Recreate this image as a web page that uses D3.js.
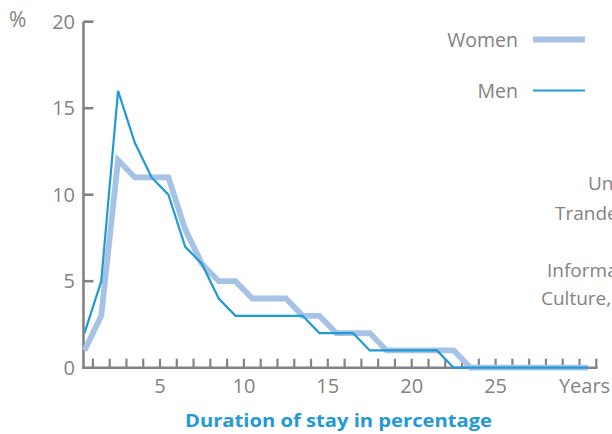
<!DOCTYPE html>
<html><head><meta charset="utf-8">
<script src="https://cdn.jsdelivr.net/npm/d3@7"></script>
<style>body{margin:0;background:#fff}svg{display:block}text{font-family:"Open Sans",sans-serif}</style>
</head><body>
<svg id="c" width="612" height="434"></svg>
<script>
// duration of stay (years), each value plotted at the middle of its year
const years = d3.range(1, 32);
const women = [1,3,12,11,11,11,8,6,5,5,4,4,4,3,3,2,2,2,1,1,1,1,1,0,0,0,0,0,0,0,0];
const men   = [2,5,16,13,11,10,7,6,4,3,3,3,3,3,2,2,2,1,1,1,1,1,0,0,0,0,0,0,0,0,0];
const yTicks = [0,5,10,15,20];
const xTickLabels = [5,10,15,20,25];
const seriesNames = ["Women","Men"];
const sideTexts = ["Un","Trande","Informa","Culture,"];

const svg = d3.select("#c");
const x = d3.scaleLinear().domain([0,31]).range([76.1,596.3]);
const y = d3.scaleLinear().domain([0,20]).range([367.7,21.7]);
const grey = "#838383", light = "#a6c3e5", dark = "#1f9ad7";
const x0 = x(0.44);

// axes
svg.append("line").attr("x1",x0).attr("x2",x0).attr("y1",y(20)).attr("y2",y(0)+1.3)
  .attr("stroke",grey).attr("stroke-width",2.6);
svg.append("line").attr("x1",x0-1.3).attr("x2",x(31)+1.3).attr("y1",y(0)).attr("y2",y(0))
  .attr("stroke",grey).attr("stroke-width",2.6);
svg.selectAll(".yt").data(yTicks.filter(d=>d>0)).enter().append("line")
  .attr("x1",x0).attr("x2",x0+10).attr("y1",d=>y(d)).attr("y2",d=>y(d))
  .attr("stroke",grey).attr("stroke-width",2.6);
svg.selectAll(".xt").data(years).enter().append("line")
  .attr("x1",d=>x(d)).attr("x2",d=>x(d)).attr("y1",y(0)).attr("y2",y(0)-9)
  .attr("stroke",grey).attr("stroke-width",2.2);
svg.selectAll(".yl").data(yTicks).enter().append("text")
  .attr("x",75).attr("y",d=>y(d)+7).attr("text-anchor","end")
  .attr("font-size",20).attr("fill",grey).text(d=>d);
svg.selectAll(".xl").data(xTickLabels).enter().append("text")
  .attr("x",d=>x(d)).attr("y",393).attr("text-anchor","middle")
  .attr("font-size",20).attr("fill",grey).text(d=>d);
svg.append("text").attr("x",x(30.3)).attr("y",393).attr("text-anchor","middle")
  .attr("font-size",20).attr("fill",grey).text("Years");
svg.append("text").attr("x",9).attr("y",27).attr("font-size",21).attr("fill",grey).text("%");

// lines
const line = d3.line().x((d,i)=>x(years[i]-0.5)).y(d=>y(d)).curve(d3.curveLinear);
svg.append("path").datum(women).attr("d",line).attr("fill","none")
  .attr("stroke",light).attr("stroke-width",5.8).attr("stroke-linejoin","miter");
svg.append("path").datum(men).attr("d",line).attr("fill","none")
  .attr("stroke",dark).attr("stroke-width",2.2).attr("stroke-linejoin","miter");

// legend
const lg = [{n:seriesNames[0],c:light,w:5.8,yy:39.5},{n:seriesNames[1],c:dark,w:2.2,yy:90.5}];
lg.forEach(d=>{
  svg.append("line").attr("x1",533).attr("x2",585).attr("y1",d.yy).attr("y2",d.yy)
    .attr("stroke",d.c).attr("stroke-width",d.w);
  svg.append("text").attr("x",518).attr("y",d.yy+7).attr("text-anchor","end")
    .attr("font-size",19.5).attr("fill",grey).text(d.n);
});

// side texts, cut by the right edge as in the reference
const sideX = [588,555,547,541], sideY = [190,220,277,305];
sideTexts.forEach((t,i)=>svg.append("text").attr("x",sideX[i]).attr("y",sideY[i])
  .attr("font-size",19).attr("fill",grey).text(t));

// title
svg.append("text").attr("x",338.5).attr("y",427).attr("text-anchor","middle")
  .attr("font-size",18).attr("font-weight","bold").attr("fill",dark)
  .attr("textLength",307).attr("lengthAdjust","spacingAndGlyphs")
  .text("Duration of stay in percentage");
</script>
</body></html>
